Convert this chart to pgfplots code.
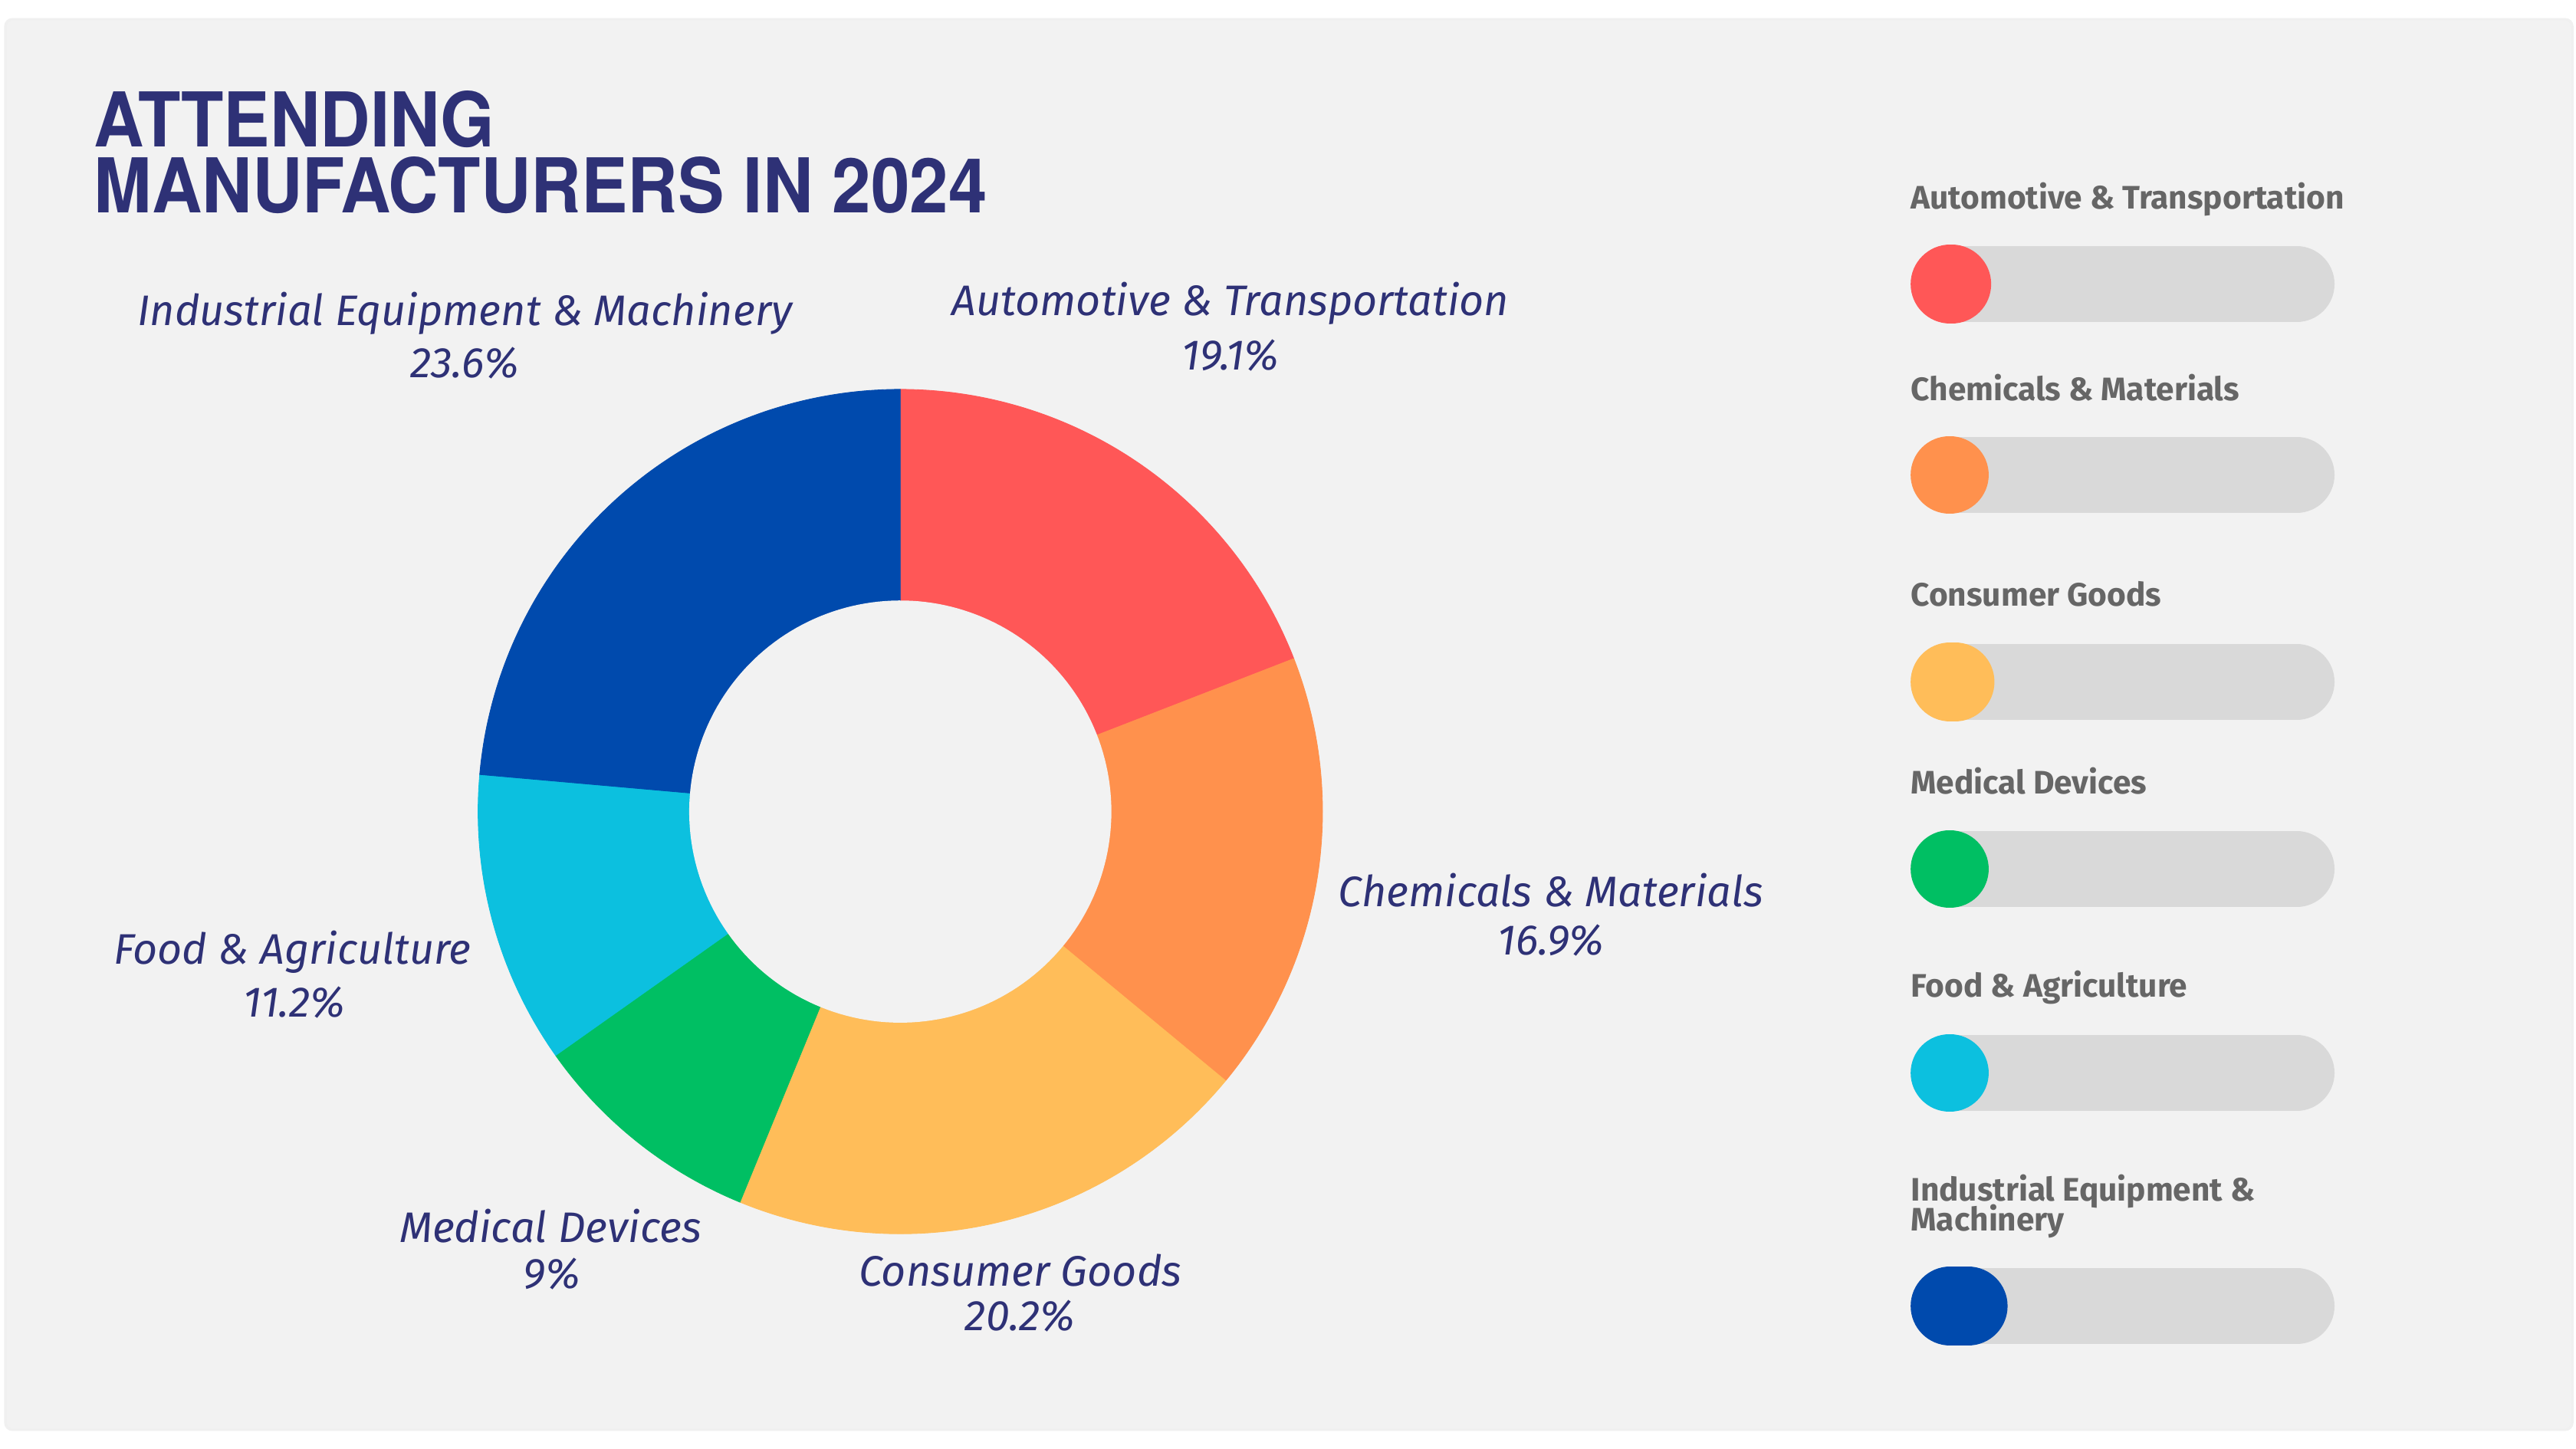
\documentclass[border=0pt]{standalone}
\usepackage{pgfplots}
\pgfplotsset{compat=1.18}
\usepackage{pgfplotstable}
\usepackage{fontspec}
\setmainfont{Fira Sans}
\newfontfamily\titlefont[FakeStretch=0.92]{TeX Gyre Heros}
\definecolor{cA}{HTML}{FF5757}
\definecolor{cB}{HTML}{FF914D}
\definecolor{cC}{HTML}{FFBD59}
\definecolor{cD}{HTML}{00BF63}
\definecolor{cE}{HTML}{0CC0DF}
\definecolor{cF}{HTML}{004AAD}
\definecolor{navy}{HTML}{2E3176}
\definecolor{legtxt}{HTML}{666666}
\definecolor{card}{HTML}{F2F2F2}
\definecolor{track}{HTML}{D9D9D9}

\pgfplotstableread{
name value
Automotive 19.1
Chemicals 16.9
Consumer 20.2
Medical 9
Food 11.2
Industrial 23.6
}\shares

\pgfplotstablegetelem{0}{value}\of\shares \let\vA\pgfplotsretval
\pgfplotstablegetelem{1}{value}\of\shares \let\vB\pgfplotsretval
\pgfplotstablegetelem{2}{value}\of\shares \let\vC\pgfplotsretval
\pgfplotstablegetelem{3}{value}\of\shares \let\vD\pgfplotsretval
\pgfplotstablegetelem{4}{value}\of\shares \let\vE\pgfplotsretval
\pgfplotstablegetelem{5}{value}\of\shares \let\vF\pgfplotsretval
\pgfmathsetmacro\aZ{90}
\pgfmathsetmacro\aA{\aZ-3.6*\vA}
\pgfmathsetmacro\aB{\aA-3.6*\vB}
\pgfmathsetmacro\aC{\aB-3.6*\vC}
\pgfmathsetmacro\aD{\aC-3.6*\vD}
\pgfmathsetmacro\aE{\aD-3.6*\vE}
\pgfmathsetmacro\aF{\aE-3.6*\vF}

\newcommand\labf{\fontsize{26}{30}\selectfont\itshape}
\newcommand\legf{\fontsize{19.8}{18}\selectfont\bfseries}

\begin{document}
\begin{tikzpicture}
\begin{axis}[width=1568pt,height=882pt,scale only axis,
  xmin=0,xmax=1568,ymin=0,ymax=882,y dir=reverse,
  hide axis,clip=false,no markers]
% background and card
\fill[white] (axis cs:0,0) rectangle (axis cs:1568,882);
\fill[black!6,rounded corners=5pt] (axis cs:2.5,11) rectangle (axis cs:1566.5,871);
\fill[card,rounded corners=4pt] (axis cs:4,12.5) rectangle (axis cs:1565,869.5);

% donut slices
\addplot[fill=cA,draw=cA,line width=0.4pt,domain=\aA:\aZ,samples=90,variable=\t]
  ({548+257*cos(\t)},{494-257*sin(\t)}) -- (axis cs:548,494) -- cycle;
\addplot[fill=cB,draw=cB,line width=0.4pt,domain=\aB:\aA,samples=90,variable=\t]
  ({548+257*cos(\t)},{494-257*sin(\t)}) -- (axis cs:548,494) -- cycle;
\addplot[fill=cC,draw=cC,line width=0.4pt,domain=\aC:\aB,samples=90,variable=\t]
  ({548+257*cos(\t)},{494-257*sin(\t)}) -- (axis cs:548,494) -- cycle;
\addplot[fill=cD,draw=cD,line width=0.4pt,domain=\aD:\aC,samples=60,variable=\t]
  ({548+257*cos(\t)},{494-257*sin(\t)}) -- (axis cs:548,494) -- cycle;
\addplot[fill=cE,draw=cE,line width=0.4pt,domain=\aE:\aD,samples=60,variable=\t]
  ({548+257*cos(\t)},{494-257*sin(\t)}) -- (axis cs:548,494) -- cycle;
\addplot[fill=cF,draw=cF,line width=0.4pt,domain=\aF:\aE,samples=100,variable=\t]
  ({548+257*cos(\t)},{494-257*sin(\t)}) -- (axis cs:548,494) -- cycle;
% hole
\addplot[fill=card,draw=none,domain=0:360,samples=200,variable=\t]
  ({548+128.5*cos(\t)},{494-128.5*sin(\t)}) -- cycle;

% title
\node[anchor=north west,inner sep=0pt,align=left,text=navy,font={\titlefont\fontsize{46}{40}\selectfont\bfseries}] at (axis cs:57,55) {ATTENDING\\MANUFACTURERS IN 2024};

% slice labels
\node[anchor=base,inner sep=0pt,text=navy,font=\labf] at (axis cs:283,198) {Industrial Equipment \& Machinery};
\node[anchor=base,inner sep=0pt,text=navy,font=\labf] at (axis cs:283,230) {23.6\%};
\node[anchor=base,inner sep=0pt,text=navy,font=\labf] at (axis cs:749,192) {Automotive \& Transportation};
\node[anchor=base,inner sep=0pt,text=navy,font=\labf] at (axis cs:749,225) {19.1\%};
\node[anchor=base,inner sep=0pt,text=navy,font=\labf] at (axis cs:944,552) {Chemicals \& Materials};
\node[anchor=base,inner sep=0pt,text=navy,font=\labf] at (axis cs:944,581) {16.9\%};
\node[anchor=base,inner sep=0pt,text=navy,font=\labf] at (axis cs:178,587) {Food \& Agriculture};
\node[anchor=base,inner sep=0pt,text=navy,font=\labf] at (axis cs:179,619) {11.2\%};
\node[anchor=base,inner sep=0pt,text=navy,font=\labf] at (axis cs:335,756) {Medical Devices};
\node[anchor=base,inner sep=0pt,text=navy,font=\labf] at (axis cs:336,784) {9\%};
\node[anchor=base,inner sep=0pt,text=navy,font=\labf] at (axis cs:621,783) {Consumer Goods};
\node[anchor=base,inner sep=0pt,text=navy,font=\labf] at (axis cs:621,810) {20.2\%};

% legend tracks
\addplot[track,line width=46pt,line cap=round] coordinates {(1186,173) (1398,173)};
\addplot[track,line width=46pt,line cap=round] coordinates {(1186,289) (1398,289)};
\addplot[track,line width=46pt,line cap=round] coordinates {(1186,415) (1398,415)};
\addplot[track,line width=46pt,line cap=round] coordinates {(1186,529) (1398,529)};
\addplot[track,line width=46pt,line cap=round] coordinates {(1186,653) (1398,653)};
\addplot[track,line width=46pt,line cap=round] coordinates {(1186,795) (1398,795)};
% legend dots
\addplot[cA,line width=48pt,line cap=round] coordinates {(1187,173) (1188,173)};
\addplot[cB,line width=47pt,line cap=round] coordinates {(1186.5,289) (1187,289)};
\addplot[cC,line width=48pt,line cap=round] coordinates {(1187,415) (1190,415)};
\addplot[cD,line width=47pt,line cap=round] coordinates {(1186.5,529) (1187,529)};
\addplot[cE,line width=47pt,line cap=round] coordinates {(1186.5,653) (1187,653)};
\addplot[cF,line width=48pt,line cap=round] coordinates {(1187,795) (1198,795)};

% legend labels
\node[anchor=base west,inner sep=0pt,text=legtxt,font=\legf] at (axis cs:1163,127) {Automotive \& Transportation};
\node[anchor=base west,inner sep=0pt,text=legtxt,font=\legf] at (axis cs:1163,244) {Chemicals \& Materials};
\node[anchor=base west,inner sep=0pt,text=legtxt,font=\legf] at (axis cs:1163,369) {Consumer Goods};
\node[anchor=base west,inner sep=0pt,text=legtxt,font=\legf] at (axis cs:1163,483) {Medical Devices};
\node[anchor=base west,inner sep=0pt,text=legtxt,font=\legf] at (axis cs:1163,607) {Food \& Agriculture};
\node[anchor=base west,inner sep=0pt,text=legtxt,font=\legf] at (axis cs:1163,731) {Industrial Equipment \&};
\node[anchor=base west,inner sep=0pt,text=legtxt,font=\legf] at (axis cs:1163,749) {Machinery};
\end{axis}
\pgfresetboundingbox
\useasboundingbox (current axis.south west) rectangle (current axis.north east);
\end{tikzpicture}
\end{document}
